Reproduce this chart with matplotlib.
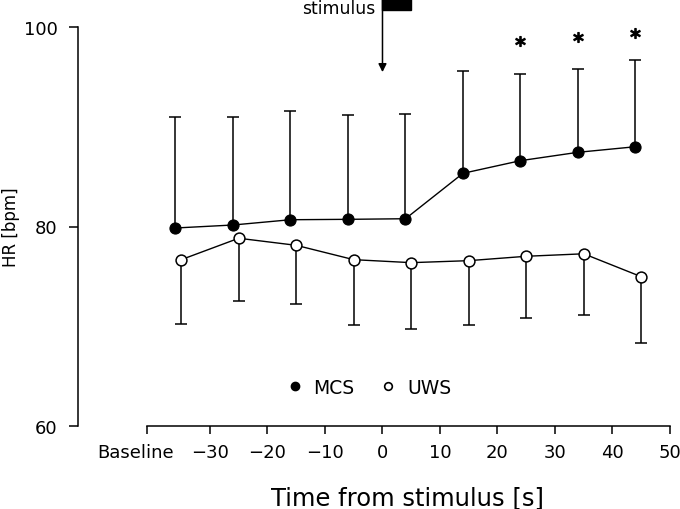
import matplotlib
matplotlib.use('Agg')

import matplotlib.pyplot as plt
import matplotlib.transforms as mtransforms
from matplotlib.lines import Line2D
from matplotlib.patches import Rectangle

# time points (s from stimulus), MCS and UWS are offset by 1 s for readability
mcs_x = [-36, -26, -16, -6, 4, 14, 24, 34, 44]
uws_x = [-35, -25, -15, -5, 5, 15, 25, 35, 45]

# heart rate means and one-sided SD limits (bpm)
mcs_mean = [79.85, 80.15, 80.68, 80.72, 80.78, 85.34, 86.61, 87.45, 88.01]
mcs_upper = [90.96, 90.96, 91.63, 91.19, 91.34, 95.58, 95.36, 95.81, 96.75]
uws_mean = [76.67, 78.82, 78.11, 76.67, 76.37, 76.57, 77.01, 77.26, 74.96]
uws_lower = [70.21, 72.52, 72.19, 70.14, 69.74, 70.14, 70.81, 71.14, 68.27]

# significance marks
star_x = [24, 34, 44]
star_y = [98.65, 99.0, 99.43]

x_ticks = [-41, -30, -20, -10, 0, 10, 20, 30, 40, 50]
x_tick_labels = ['Baseline', '\u221230', '\u221220', '\u221210', '0', '10', '20', '30', '40', '50']
y_ticks = [60, 80, 100]

stim_start = 0
stim_end = 5


def main():
    fig = plt.figure(figsize=(6.8, 5.1), dpi=100)
    ax = fig.add_axes([78.3 / 680, (510 - 426.7) / 510, (670 - 78.3) / 680, (426.7 - 28.3) / 510])
    ax.set_xlim(-52.9, 50)
    ax.set_ylim(60, 100)

    # error bars (MCS up, UWS down)
    ax.vlines(mcs_x, mcs_mean, mcs_upper, color='black', lw=1.1, zorder=1)
    ax.plot(mcs_x, mcs_upper, ls='none', marker='_', ms=9, mew=1.1, color='black', zorder=1)
    ax.vlines(uws_x, uws_lower, uws_mean, color='black', lw=1.1, zorder=1)
    ax.plot(uws_x, uws_lower, ls='none', marker='_', ms=9, mew=1.1, color='black', zorder=1)

    # mean lines
    ax.plot(mcs_x, mcs_mean, color='black', lw=1.0, marker='o', ms=8, mfc='black',
            mec='black', mew=0.8, zorder=3)
    ax.plot(uws_x, uws_mean, color='black', lw=1.0, marker='o', ms=7.8, mfc='white',
            mec='black', mew=1.1, zorder=4)

    # stars
    ax.plot(star_x, star_y, ls='none', marker='$*$', ms=7, color='black', zorder=5)

    # stimulus arrow + bar
    ax.annotate('', xy=(stim_start, 95.5), xytext=(stim_start, 102.9),
                arrowprops=dict(arrowstyle='-|>', lw=1.1, color='black',
                                mutation_scale=12, shrinkA=0, shrinkB=0),
                annotation_clip=False)
    ax.add_patch(Rectangle((stim_start, 101.75), stim_end - stim_start, 1.05,
                           color='black', clip_on=False))
    ax.text(stim_start - 1.3, 101.9, 'stimulus', ha='right', va='center', fontsize=12.4)

    # axes styling
    for s in ['top', 'right']:
        ax.spines[s].set_visible(False)
    ax.spines['left'].set_bounds(60, 100)
    ax.spines['bottom'].set_bounds(-41, 50)
    ax.spines['left'].set_linewidth(1.1)
    ax.spines['bottom'].set_linewidth(1.1)

    ax.set_xticks(x_ticks, labels=x_tick_labels)
    ax.set_yticks(y_ticks)
    ax.tick_params(axis='x', direction='out', length=5.8, width=1.1, labelsize=13, pad=6.8)
    ax.tick_params(axis='y', direction='out', length=6.5, width=1.1, labelsize=13, pad=8.5)

    # "Baseline" sits a little left of its tick
    base_lbl = ax.get_xticklabels()[0]
    base_lbl.set_transform(base_lbl.get_transform() +
                           mtransforms.ScaledTranslation(-11 / 100, 0, fig.dpi_scale_trans))

    ax.set_ylabel('HR [bpm]', fontsize=12)
    ax.yaxis.set_label_coords(-0.0985, 0.5)
    ax.set_xlabel('Time from stimulus [s]', fontsize=17.5)
    ax.xaxis.set_label_coords(0.557, -0.149)

    handles = [
        Line2D([], [], ls='none', marker='o', ms=6, mfc='black', mec='black'),
        Line2D([], [], ls='none', marker='o', ms=5.5, mfc='white', mec='black', mew=1.2),
    ]
    ax.legend(handles, ['MCS', 'UWS'], ncol=2, frameon=False, fontsize=13.5,
              loc='center', bbox_to_anchor=(0.493, 0.097), handlelength=0.6,
              handletextpad=0.7, columnspacing=1.5, borderpad=0)

    plt.savefig('out.png', dpi=100)
    plt.close()


if __name__ == "__main__":
    main()
